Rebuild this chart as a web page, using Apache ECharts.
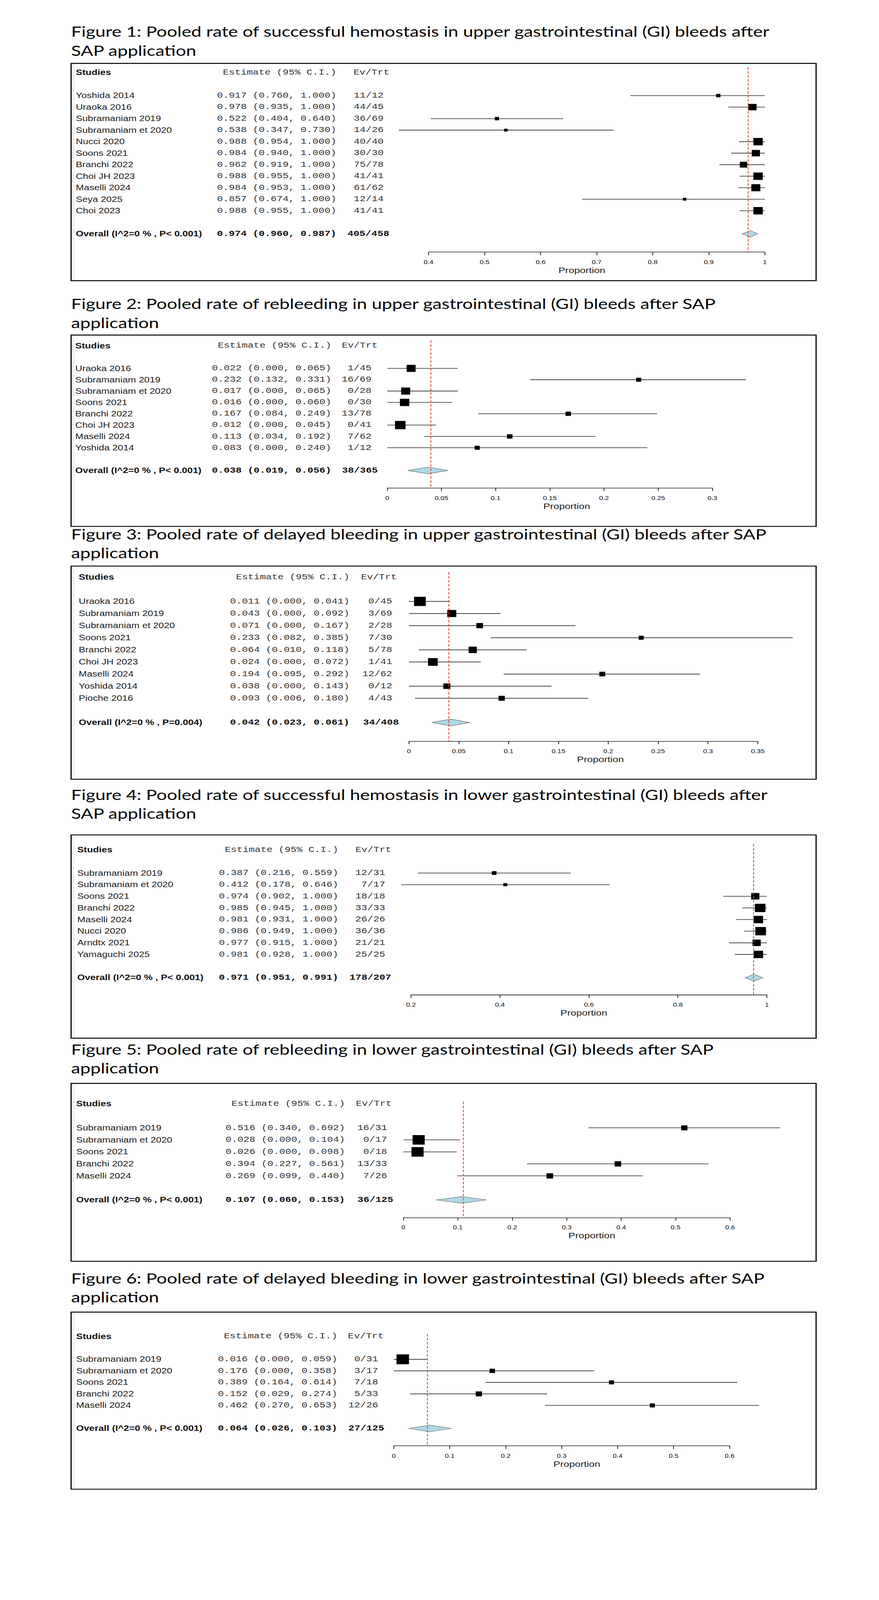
<!DOCTYPE html>
<html><head><meta charset="utf-8">
<script src="https://cdn.jsdelivr.net/npm/echarts@6/dist/echarts.min.js"></script>
<style>
html,body{margin:0;padding:0;background:#fff;overflow:hidden}
#wrap{position:relative;width:2250px;height:100vh;overflow:hidden;background:#fff}
#page{position:absolute;left:0;top:0;width:2250px;height:5199px;background:#fff;transform-origin:0 0}
.part{position:absolute;left:0;width:2250px}
</style>
</head><body><div id="wrap"><div id="page"><div id="c1" class="part" style="top:0;height:2545px"></div><div id="c2" class="part" style="top:2545px;height:2654px"></div></div></div>
<script>
// ---------------- DATA ----------------
const f1Title = ['Figure 1: Pooled rate of successful hemostasis in upper gastrointestinal (GI) bleeds after', 'SAP application'];
const f1Studies = ['Yoshida 2014','Uraoka 2016','Subramaniam 2019','Subramaniam et 2020','Nucci 2020','Soons 2021','Branchi 2022','Choi JH 2023','Maselli 2024','Seya 2025','Choi 2023'];
const f1Est = [0.917,0.978,0.522,0.538,0.988,0.984,0.962,0.988,0.984,0.857,0.988];
const f1Lo  = [0.760,0.935,0.404,0.347,0.954,0.940,0.919,0.955,0.953,0.674,0.955];
const f1Hi  = [1.000,1.000,0.640,0.730,1.000,1.000,1.000,1.000,1.000,1.000,1.000];
const f1Ev  = [11,44,36,14,40,30,75,41,61,12,41];
const f1Trt = [12,45,69,26,40,30,78,41,62,14,41];
const f1Weight = [3.1,11.3,3.1,2.1,14.8,11.3,9.2,14.8,13.6,2.1,14.8];
const f1Overall = [0.974,0.960,0.987];
const f1OverallEvTrt = [405,458];
const f1Het = 'Overall (I^2=0 % , P< 0.001)';
const f1Ticks = [0.4,0.5,0.6,0.7,0.8,0.9,1];

const f2Title = ['Figure 2: Pooled rate of rebleeding in upper gastrointestinal (GI) bleeds after SAP', 'application'];
const f2Studies = ['Uraoka 2016','Subramaniam 2019','Subramaniam et 2020','Soons 2021','Branchi 2022','Choi JH 2023','Maselli 2024','Yoshida 2014'];
const f2Est = [0.022,0.232,0.017,0.016,0.167,0.012,0.113,0.083];
const f2Lo  = [0.000,0.132,0.000,0.000,0.084,0.000,0.034,0.000];
const f2Hi  = [0.065,0.331,0.065,0.060,0.249,0.045,0.192,0.240];
const f2Ev  = [1,16,0,0,13,0,7,1];
const f2Trt = [45,69,28,30,78,41,62,12];
const f2Weight = [17.1,5.5,17.1,18.6,6.3,23.6,6.3,5.5];
const f2Overall = [0.038,0.019,0.056];
const f2OverallEvTrt = [38,365];
const f2Het = 'Overall (I^2=0 % , P< 0.001)';
const f2Ticks = [0,0.05,0.1,0.15,0.2,0.25,0.3];

const f3Title = ['Figure 3: Pooled rate of delayed bleeding in upper gastrointestinal (GI) bleeds after SAP', 'application'];
const f3Studies = ['Uraoka 2016','Subramaniam 2019','Subramaniam et 2020','Soons 2021','Branchi 2022','Choi JH 2023','Maselli 2024','Yoshida 2014','Pioche 2016'];
const f3Est = [0.011,0.043,0.071,0.233,0.064,0.024,0.194,0.038,0.093];
const f3Lo  = [0.000,0.000,0.000,0.082,0.010,0.000,0.095,0.000,0.006];
const f3Hi  = [0.041,0.092,0.167,0.385,0.118,0.072,0.292,0.143,0.180];
const f3Ev  = [0,3,2,7,5,1,12,0,4];
const f3Trt = [45,69,28,30,78,41,62,12,43];
const f3Weight = [23.9,14.1,7.7,4.5,11.7,16.6,6.0,8.6,6.8];
const f3Overall = [0.042,0.023,0.061];
const f3OverallEvTrt = [34,408];
const f3Het = 'Overall (I^2=0 % , P=0.004)';
const f3Ticks = [0,0.05,0.1,0.15,0.2,0.25,0.3,0.35];

const f4Title = ['Figure 4: Pooled rate of successful hemostasis in lower gastrointestinal (GI) bleeds after', 'SAP application'];
const f4Studies = ['Subramaniam 2019','Subramaniam et 2020','Soons 2021','Branchi 2022','Maselli 2024','Nucci 2020','Arndtx 2021','Yamaguchi 2025'];
const f4Est = [0.387,0.412,0.974,0.985,0.981,0.986,0.977,0.981];
const f4Lo  = [0.216,0.178,0.902,0.945,0.931,0.949,0.915,0.928];
const f4Hi  = [0.559,0.646,1.000,1.000,1.000,1.000,1.000,1.000];
const f4Ev  = [12,7,18,33,26,36,21,25];
const f4Trt = [31,17,18,33,26,36,21,25];
const f4Weight = [3.9,2.7,11.8,19.5,15.4,19.5,11.8,15.4];
const f4Overall = [0.971,0.951,0.991];
const f4OverallEvTrt = [178,207];
const f4Het = 'Overall (I^2=0 % , P< 0.001)';
const f4Ticks = [0.2,0.4,0.6,0.8,1];

const f5Title = ['Figure 5: Pooled rate of rebleeding in lower gastrointestinal (GI) bleeds after SAP', 'application'];
const f5Studies = ['Subramaniam 2019','Subramaniam et 2020','Soons 2021','Branchi 2022','Maselli 2024'];
const f5Est = [0.516,0.028,0.026,0.394,0.269];
const f5Lo  = [0.340,0.000,0.000,0.227,0.099];
const f5Hi  = [0.692,0.104,0.098,0.561,0.440];
const f5Ev  = [16,0,0,13,7];
const f5Trt = [31,17,18,33,26];
const f5Weight = [9.3,34.9,34.9,10.5,10.5];
const f5Overall = [0.107,0.060,0.153];
const f5OverallEvTrt = [36,125];
const f5Het = 'Overall (I^2=0 % , P< 0.001)';
const f5Ticks = [0,0.1,0.2,0.3,0.4,0.5,0.6];

const f6Title = ['Figure 6: Pooled rate of delayed bleeding in lower gastrointestinal (GI) bleeds after SAP', 'application'];
const f6Studies = ['Subramaniam 2019','Subramaniam et 2020','Soons 2021','Branchi 2022','Maselli 2024'];
const f6Est = [0.016,0.176,0.389,0.152,0.462];
const f6Lo  = [0.000,0.000,0.164,0.029,0.270];
const f6Hi  = [0.059,0.358,0.614,0.274,0.653];
const f6Ev  = [0,3,7,5,12];
const f6Trt = [31,17,18,33,26];
const f6Weight = [56.4,10.8,9.3,14.1,9.3];
const f6Overall = [0.064,0.026,0.103];
const f6OverallEvTrt = [27,125];
const f6Het = 'Overall (I^2=0 % , P< 0.001)';
const f6Ticks = [0,0.1,0.2,0.3,0.4,0.5,0.6];

// ---------------- LAYOUT (positions / sizes in the 2250x5199 reference frame) ----------------
const LAYOUT = [
  {t:[101.6,163.5], box:[182,206,2089,912],        x0:1097,  x1:1957.7, y0:310.6, sp:37.42, top:-2.47, bot:13.59, sx:194,   estEnd:861,   evHdr:905,   evEnd:982,  evOvEnd:996.5, propX:1489.4, maxBox:24},
  {t:[985.5,1047.4], box:[182,1088.7,2089,1710.6], x0:991.3, x1:1823.5, y0:1197,  sp:36.86, top:-2.48, bot:10.54, sx:192.6, estEnd:848,   evHdr:875,   evEnd:951,  evOvEnd:967,   propX:1450.7, maxBox:27},
  {t:[1734.8,1795.5],box:[182,1839.4,2089,2532],   x0:1046.8,x1:1939.7, y0:1954.2,sp:39.35, top:-2.42, bot:11.54, sx:201.6, estEnd:894.5, evHdr:924,   evEnd:1004, evOvEnd:1021,  propX:1537,   maxBox:30},
  {t:[2581.3,2642],  box:[182,2713,2089,3373.5],   x0:1052,  x1:1962.9, y0:2836.8,sp:37.79, top:-2.49, bot:10.48, sx:197.7, estEnd:866,   evHdr:910,   evEnd:986,  evOvEnd:1001.6,propX:1494.5, maxBox:27},
  {t:[3409.3,3470],  box:[182,3520.3,2089,4098.4], x0:1032.6,x1:1868.7, y0:3664.8,sp:39.03, top:-2.18, bot:7.47,  sx:195,   estEnd:883,   evHdr:911,   evEnd:991,  evOvEnd:1006.8,propX:1515,   maxBox:31},
  {t:[4152.5,4213.2],box:[182,4263.5,2089,4839],   x0:1008,  x1:1867.4, y0:4417,  sp:37.42, top:-2.2,  bot:7.51,  sx:195,   estEnd:863.5, evHdr:890.6, evEnd:968,  evOvEnd:983.5, propX:1476.5, maxBox:32}
];
const PARTS = [{el:'c1', top:0, height:2545, figs:[0,1,2]}, {el:'c2', top:2545, height:2654, figs:[3,4,5]}];
const REF_H = 5199;

// the browser viewport is shorter than the reference; fit the whole reference frame vertically
const vh = window.innerHeight || REF_H;
if (vh < REF_H) document.getElementById('page').style.transform = 'scaleY(' + (vh / REF_H) + ')';

const SANS = '"Liberation Sans", Arial, sans-serif';
const MONO = '"Liberation Mono", "Courier New", monospace';
const TFONT = 'Lato, "Open Sans", sans-serif';

const FIGS = [
  {title:f1Title, studies:f1Studies, est:f1Est, lo:f1Lo, hi:f1Hi, ev:f1Ev, trt:f1Trt, w:f1Weight, ov:f1Overall, ovEv:f1OverallEvTrt, het:f1Het, ticks:f1Ticks},
  {title:f2Title, studies:f2Studies, est:f2Est, lo:f2Lo, hi:f2Hi, ev:f2Ev, trt:f2Trt, w:f2Weight, ov:f2Overall, ovEv:f2OverallEvTrt, het:f2Het, ticks:f2Ticks},
  {title:f3Title, studies:f3Studies, est:f3Est, lo:f3Lo, hi:f3Hi, ev:f3Ev, trt:f3Trt, w:f3Weight, ov:f3Overall, ovEv:f3OverallEvTrt, het:f3Het, ticks:f3Ticks},
  {title:f4Title, studies:f4Studies, est:f4Est, lo:f4Lo, hi:f4Hi, ev:f4Ev, trt:f4Trt, w:f4Weight, ov:f4Overall, ovEv:f4OverallEvTrt, het:f4Het, ticks:f4Ticks},
  {title:f5Title, studies:f5Studies, est:f5Est, lo:f5Lo, hi:f5Hi, ev:f5Ev, trt:f5Trt, w:f5Weight, ov:f5Overall, ovEv:f5OverallEvTrt, het:f5Het, ticks:f5Ticks},
  {title:f6Title, studies:f6Studies, est:f6Est, lo:f6Lo, hi:f6Hi, ev:f6Ev, trt:f6Trt, w:f6Weight, ov:f6Overall, ovEv:f6OverallEvTrt, het:f6Het, ticks:f6Ticks}
];

const ctx = document.createElement('canvas').getContext('2d');
ctx.font = '100px ' + TFONT;
let titleSize = 100 * 1790 / ctx.measureText(f1Title[0]).width;
if (!(titleSize > 30 && titleSize < 60)) titleSize = 44;

const fmt = v => v.toFixed(3);
function txt(x, y, text, family, size, weight, align, fill) {
  return {type:'text', x:x, y:y, silent:true, style:{text:text, fontFamily:family, fontSize:size, fontWeight:weight,
    align:align, textAlign:align, verticalAlign:'middle', textVerticalAlign:'middle', fill:fill}};
}

function buildOption(part) {
  const grids=[], xAxes=[], yAxes=[], series=[], graphics=[];
  const oy = part.top;
  part.figs.forEach((k, g) => {
    const f = FIGS[k];
    const L = LAYOUT[k];
    const n = f.studies.length;
    const ovRow = n + 1;
    const step = +(f.ticks[1] - f.ticks[0]).toFixed(6);
    const wMax = Math.max.apply(null, f.w);
    const y0 = L.y0 - oy;

    grids.push({left:L.x0, width:L.x1 - L.x0, top:y0 + L.top*L.sp, height:(L.bot - L.top)*L.sp});
    xAxes.push({gridIndex:g, type:'value', min:f.ticks[0], max:f.ticks[f.ticks.length-1], interval:step,
      axisLine:{show:true, onZero:false, lineStyle:{color:'#222', width:2}},
      axisTick:{show:true, inside:false, length:10, lineStyle:{color:'#222', width:2}},
      axisLabel:{show:true, margin:23, fontSize:18, fontFamily:SANS, color:'#111', formatter:v => String(+v.toFixed(3))},
      splitLine:{show:false}});
    yAxes.push({gridIndex:g, type:'value', inverse:true, min:L.top, max:L.bot, show:false});

    series.push({type:'custom', xAxisIndex:g, yAxisIndex:g, clip:false, silent:true, z:3,
      data:f.studies.map((s,i) => [f.lo[i], f.hi[i], f.est[i], i, f.w[i]]),
      encode:{x:[0,1,2], y:3},
      renderItem:(params, api) => {
        const row = api.value(3);
        const pLo = api.coord([api.value(0), row]);
        const pHi = api.coord([api.value(1), row]);
        const pE = api.coord([api.value(2), row]);
        const s = L.maxBox * Math.sqrt(api.value(4) / wMax);
        return {type:'group', children:[
          {type:'line', shape:{x1:pLo[0], y1:pLo[1], x2:pHi[0], y2:pHi[1]}, style:{stroke:'#2a2a2a', lineWidth:2}},
          {type:'rect', shape:{x:pE[0]-s/2, y:pE[1]-s/2, width:s, height:s}, style:{fill:'#000'}}
        ]};
      }});

    series.push({type:'custom', xAxisIndex:g, yAxisIndex:g, clip:false, silent:true, z:4,
      data:[[f.ov[1], f.ov[2], f.ov[0], ovRow]],
      encode:{x:[0,1,2], y:3},
      renderItem:(params, api) => {
        const row = api.value(3);
        const a = api.coord([api.value(0), row]);
        const b = api.coord([api.value(1), row]);
        const c = api.coord([api.value(2), row]);
        const h = 11;
        return {type:'polygon', shape:{points:[[a[0],a[1]],[c[0],c[1]-h],[b[0],b[1]],[c[0],c[1]+h]]},
          style:{fill:'#add8e6', stroke:'#6f6f6f', lineWidth:1.5}};
      },
      markLine:{silent:true, symbol:['none','none'], label:{show:false}, animation:false,
        lineStyle:{color:'#ff2e2e', width:2, type:[8,5]},
        emphasis:{disabled:true},
        data:[{xAxis:f.ov[0]}]}
    });

    const rows = f.studies.map((s,i) => [f.ticks[0], i, 0]).concat([[f.ticks[0], ovRow, 1]]);
    series.push({type:'custom', xAxisIndex:g, yAxisIndex:g, clip:false, silent:true, z:5,
      data:rows, encode:{x:0, y:1},
      renderItem:(params, api) => {
        const y = api.coord([api.value(0), api.value(1)])[1];
        const i = params.dataIndex;
        if (api.value(2) === 0) {
          return {type:'group', children:[
            txt(L.sx, y, f.studies[i], SANS, 25, 'normal', 'left', '#1a1a1a'),
            txt(L.estEnd, y, fmt(f.est[i]) + ' (' + fmt(f.lo[i]) + ', ' + fmt(f.hi[i]) + ')', MONO, 25.5, 'normal', 'right', '#333'),
            txt(L.evEnd, y, f.ev[i] + '/' + f.trt[i], MONO, 25.5, 'normal', 'right', '#333')
          ]};
        }
        return {type:'group', children:[
          txt(L.sx, y, f.het, SANS, 25, 'bold', 'left', '#111'),
          txt(L.estEnd, y, fmt(f.ov[0]) + ' (' + fmt(f.ov[1]) + ', ' + fmt(f.ov[2]) + ')', MONO, 25.5, 'bold', 'right', '#111'),
          txt(L.evOvEnd, y, f.ovEv[0] + '/' + f.ovEv[1], MONO, 25.5, 'bold', 'right', '#111')
        ]};
      }});

    const bx = L.box;
    graphics.push({type:'rect', silent:true, z:1, shape:{x:bx[0]+2, y:bx[1]-oy+2, width:7, height:bx[3]-bx[1]-4}, style:{fill:'#f2f2f2'}});
    graphics.push({type:'rect', silent:true, z:2, shape:{x:bx[0], y:bx[1]-oy, width:bx[2]-bx[0], height:bx[3]-bx[1]}, style:{fill:'none', stroke:'#000', lineWidth:3}});
    graphics.push(txt(182, L.t[0]-oy, f.title[0], TFONT, titleSize, 'normal', 'left', '#000'));
    graphics.push(txt(182, L.t[1]-oy, f.title[1], TFONT, titleSize, 'normal', 'left', '#000'));
    const hy = y0 - 2*L.sp;
    graphics.push(txt(L.sx, hy, 'Studies', SANS, 25, 'bold', 'left', '#111'));
    graphics.push(txt(L.estEnd, hy, 'Estimate (95% C.I.)', MONO, 25.5, 'normal', 'right', '#333'));
    graphics.push(txt(L.evHdr, hy, 'Ev/Trt', MONO, 25.5, 'normal', 'left', '#333'));
    graphics.push(txt(L.propX, y0 + L.bot*L.sp + 59, 'Proportion', SANS, 26, 'normal', 'center', '#1a1a1a'));
  });
  return {animation:false, backgroundColor:'#fff', grid:grids, xAxis:xAxes, yAxis:yAxes, series:series, graphic:{elements:graphics}};
}

PARTS.forEach(p => {
  const chart = echarts.init(document.getElementById(p.el), null, {renderer:'svg', width:2250, height:p.height});
  chart.setOption(buildOption(p));
});
</script>
</body></html>
